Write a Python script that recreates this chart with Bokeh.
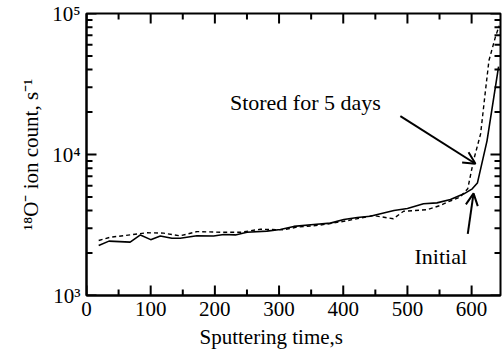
from bokeh.plotting import figure
from bokeh.models import FixedTicker, Arrow, OpenHead, Label, Range1d, Title
from bokeh.embed import file_html
from bokeh.resources import INLINE

# Data
initial_t = [19, 35, 68, 84, 100, 115, 133, 146, 172, 198, 214, 232, 250, 281, 302, 323,
             354, 380, 401, 422, 442, 479, 500, 525, 546, 567, 588, 601, 609, 624, 642]
initial_v = [2265, 2430, 2390, 2690, 2490, 2640, 2550, 2550, 2650, 2640, 2710, 2690, 2810,
             2860, 2940, 3090, 3190, 3260, 3460, 3570, 3650, 4010, 4140, 4470, 4540, 4800,
             5260, 5710, 6270, 12500, 42000]

stored_t = [19, 37, 68, 94, 120, 146, 172, 209, 240, 271, 307, 328, 364, 401, 447, 478,
            494, 530, 551, 562, 582, 594, 603, 614, 621, 627, 637, 643]
stored_v = [2455, 2590, 2690, 2785, 2770, 2650, 2840, 2810, 2810, 2950, 2925, 3055, 3155,
            3360, 3690, 3500, 3960, 4055, 4345, 4590, 4980, 5720, 9060, 14000, 26900, 46400,
            68000, 82000]

x_ticks = [0, 100, 200, 300, 400, 500, 600]
x_minor = [50, 150, 250, 350, 450, 550]
y_ticks = [1e3, 1e4, 1e5]
y_minor = [2e3, 3e3, 4e3, 5e3, 6e3, 7e3, 8e3, 9e3, 2e4, 3e4, 4e4, 5e4, 6e4, 7e4, 8e4, 9e4]
y_labels = {1000: "10³", 10000: "10⁴", 100000: "10⁵"}

X0, X1 = 0, 645
Y0, Y1 = 1e3, 1e5

FONT = "Liberation Serif"
FS = "21px"

W, H = 503, 356
BL, BR, BT, BB = 86, 3, 13, 61
frame_w = W - BL - BR
frame_h = H - BT - BB

p = figure(width=W, height=H, output_backend="svg", toolbar_location=None,
           y_axis_type="log", x_range=Range1d(X0, X1), y_range=Range1d(Y0, Y1),
           min_border_left=BL, min_border_right=BR, min_border_top=BT, min_border_bottom=BB)
p.grid.visible = False
p.outline_line_color = "black"
p.outline_line_width = 2
p.background_fill_color = "white"
p.border_fill_color = "white"

p.line(initial_t, initial_v, line_color="black", line_width=1.6)
p.line(stored_t, stored_v, line_color="black", line_width=1.4, line_dash="4 3")

# inward tick marks on all four sides, lengths converted from pixels
MAJ, MIN = 10, 6
decades = 2.0
def dx(px):
    return px * (X1 - X0) / frame_w
def fy(px):
    return 10 ** (px * decades / frame_h)

tick_xs, tick_ys = [], []
for x in x_ticks:
    tick_xs += [[x, x], [x, x]]
    tick_ys += [[Y0, Y0 * fy(MAJ)], [Y1, Y1 / fy(MAJ)]]
for x in x_minor:
    tick_xs += [[x, x], [x, x]]
    tick_ys += [[Y0, Y0 * fy(MIN)], [Y1, Y1 / fy(MIN)]]
for y in y_ticks:
    tick_xs += [[X0, X0 + dx(MAJ)], [X1, X1 - dx(MAJ)]]
    tick_ys += [[y, y], [y, y]]
for y in y_minor:
    tick_xs += [[X0, X0 + dx(MIN)], [X1, X1 - dx(MIN)]]
    tick_ys += [[y, y], [y, y]]
p.multi_line(xs=tick_xs, ys=tick_ys, line_color="black", line_width=2)

def style_axis(ax):
    ax.axis_line_color = "black"
    ax.axis_line_width = 2
    ax.major_tick_in = 0
    ax.major_tick_out = 0
    ax.minor_tick_in = 0
    ax.minor_tick_out = 0
    ax.major_label_text_font = FONT
    ax.major_label_text_font_size = FS
    ax.major_label_text_color = "black"
    ax.axis_label_text_font = FONT
    ax.axis_label_text_font_style = "normal"
    ax.axis_label_text_font_size = FS
    ax.axis_label_text_color = "black"

xb = p.xaxis[0]
xb.ticker = FixedTicker(ticks=x_ticks, minor_ticks=x_minor)
style_axis(xb)
xb.major_label_standoff = 6

yl = p.yaxis[0]
yl.ticker = FixedTicker(ticks=y_ticks, minor_ticks=y_minor)
style_axis(yl)
yl.major_label_overrides = y_labels
yl.major_label_standoff = 6
yl.axis_label = "¹⁸O⁻ ion count, s⁻¹"
yl.axis_label_standoff = 6

p.add_layout(Title(text="Sputtering time,s", align="left", offset=113,
                   text_font=FONT, text_font_size=FS, text_font_style="normal",
                   text_color="black", standoff=9), "below")

# Annotations
p.add_layout(Arrow(end=OpenHead(size=12, line_width=2, line_color="black"),
                   x_start=489, y_start=18700, x_end=606, y_end=8600,
                   line_width=2, line_color="black"))
p.add_layout(Arrow(end=OpenHead(size=12, line_width=2, line_color="black"),
                   x_start=594, y_start=2740, x_end=603, y_end=5300,
                   line_width=2, line_color="black"))
p.add_layout(Label(x=341, y=23500, text="Stored for 5 days", text_font=FONT,
                   text_font_size="22px", text_color="black", text_align="center",
                   text_baseline="middle"))
p.add_layout(Label(x=552, y=1900, text="Initial", text_font=FONT,
                   text_font_size="22px", text_color="black", text_align="center",
                   text_baseline="middle"))

open("out.html", "w").write(file_html(p, INLINE))
